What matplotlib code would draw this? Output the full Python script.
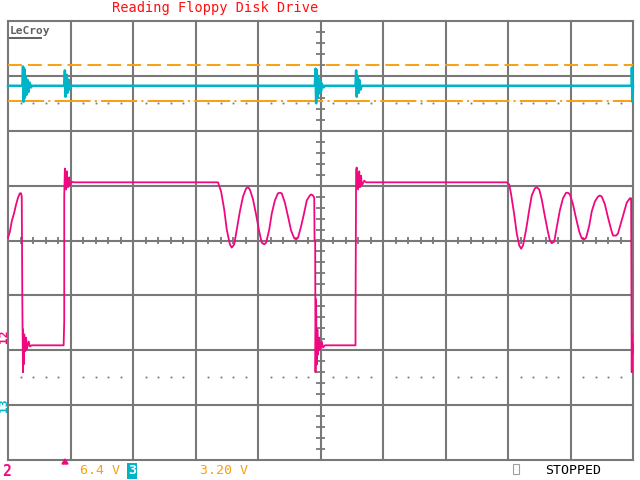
#!/usr/bin/env python3
"""
LeCroy scope capture - reading a floppy disk drive
Screen is 10 x 8 divisions; traces are stored in divisions (t, v).
"""

import matplotlib

matplotlib.use("Agg")
import matplotlib.pyplot as plt
import numpy as np

plt.rcParams["lines.scale_dashes"] = False
MONO = "DejaVu Sans Mono"

# ── Trace data (in divisions) ──────────────────────────────────────
# channel 2 (magenta): read data signal
ch2_t = [0.00, 0.03, 0.06, 0.10, 0.13, 0.16, 0.19, 0.21, 0.22,
         0.23, 0.24, 0.24, 0.25, 0.26, 0.27, 0.29, 0.30, 0.33, 0.35, 0.38,
         0.89, 0.90, 0.90, 0.91, 0.93, 0.94, 0.96, 0.98, 0.99, 1.02, 1.06,
         3.34, 3.36, 3.41, 3.46, 3.50, 3.55, 3.58, 3.62, 3.66, 3.71, 3.76,
         3.81, 3.84, 3.87, 3.92, 3.97, 4.02, 4.06, 4.10, 4.13, 4.18, 4.22,
         4.27, 4.32, 4.35, 4.38, 4.43, 4.48, 4.53, 4.58, 4.61, 4.64, 4.69,
         4.74, 4.78, 4.83, 4.85, 4.88, 4.90, 4.905, 4.915, 4.92,
         4.93, 4.94, 4.95, 4.96, 4.98, 4.99, 5.02, 5.04, 5.07,
         5.56, 5.56, 5.57, 5.58, 5.60, 5.62, 5.63, 5.65, 5.66, 5.70, 5.73,
         7.98, 8.02, 8.05, 8.10, 8.14, 8.18, 8.21, 8.24, 8.29, 8.34, 8.38,
         8.43, 8.46, 8.50, 8.54, 8.59, 8.64, 8.67, 8.70, 8.74, 8.78, 8.83,
         8.88, 8.93, 8.96, 8.99, 9.04, 9.09, 9.14, 9.18, 9.22, 9.25, 9.30,
         9.34, 9.39, 9.44, 9.47, 9.50, 9.55, 9.60, 9.65, 9.68, 9.73, 9.76,
         9.81, 9.86, 9.90, 9.95, 9.97, 9.975, 9.98, 9.983, 9.99, 10.0]
ch2_v = [0.05, 0.16, 0.35, 0.51, 0.66, 0.78, 0.86, 0.86, 0.80,
         -1.20, -2.40, -1.62, -2.26, -1.71, -2.02, -1.77, -1.99, -1.84, -1.93, -1.91,
         -1.91, -1.46, 0.80, 1.31, 0.93, 1.26, 0.97, 1.15, 1.00, 1.07, 1.06,
         1.06, 1.06, 0.89, 0.56, 0.20, -0.07, -0.13, -0.07, 0.20, 0.53, 0.80,
         0.95, 0.97, 0.93, 0.75, 0.47, 0.16, -0.04, -0.07, -0.04, 0.20, 0.49,
         0.73, 0.86, 0.87, 0.86, 0.69, 0.44, 0.18, 0.04, 0.02, 0.05, 0.26,
         0.51, 0.73, 0.82, 0.84, 0.82, 0.78, 0.00, 0.00, -2.40,
         -1.07, -2.26, -1.62, -2.08, -1.77, -1.99, -1.84, -1.95, -1.91,
         -1.91, -1.46, 1.29, 1.33, 0.93, 1.26, 0.97, 1.18, 1.00, 1.09, 1.06,
         1.06, 1.02, 0.84, 0.47, 0.13, -0.09, -0.15, -0.09, 0.20, 0.56, 0.82,
         0.95, 0.97, 0.93, 0.75, 0.44, 0.15, 0.00, -0.05, -0.02, 0.24, 0.55,
         0.77, 0.87, 0.87, 0.84, 0.66, 0.40, 0.16, 0.04, 0.02, 0.05, 0.27,
         0.53, 0.71, 0.80, 0.82, 0.80, 0.66, 0.42, 0.20, 0.09, 0.09, 0.13,
         0.33, 0.53, 0.69, 0.77, 0.77, -1.07, -2.40, -1.71, -2.08, -1.89]

# channel 3 (cyan): index / step pulses with ringing
ch3_t = [0.00, 0.23, 0.24, 0.25, 0.26, 0.27, 0.28, 0.30, 0.31, 0.33, 0.34, 0.37, 0.38,
         0.90, 0.91, 0.92, 0.94, 0.95, 0.97, 0.98, 1.01,
         4.91, 4.92, 4.93, 4.94, 4.95, 4.96, 4.98, 4.99, 5.01, 5.02, 5.05, 5.07,
         5.56, 5.57, 5.58, 5.59, 5.61, 5.62, 5.64, 5.66,
         9.98, 9.982, 9.99, 10.0]
ch3_v = [2.82, 2.82, 3.17, 2.53, 3.13, 2.60, 3.00, 2.66, 2.93, 2.71, 2.88, 2.79, 2.82,
         2.82, 3.10, 2.62, 3.02, 2.69, 2.93, 2.75, 2.82,
         2.82, 3.13, 2.50, 3.11, 2.60, 3.00, 2.68, 2.93, 2.73, 2.86, 2.79, 2.82,
         2.82, 3.10, 2.62, 3.00, 2.69, 2.93, 2.75, 2.82,
         2.82, 3.15, 2.53, 2.82]

# cursor / reference levels (divisions)
cursor_upper = 3.19
cursor_lower = 2.55
ref_dots_levels = [2.50, -2.48]

# ── Colours ────────────────────────────────────────────────────────
GRID = "#787878"
MAGENTA = "#f0087f"
CYAN = "#00b4c8"
ORANGE = "#f8a010"

# ── Figure ─────────────────────────────────────────────────────────
fig = plt.figure(figsize=(6.4, 4.8), dpi=100, facecolor="white")
ax = fig.add_axes([8 / 640, 20 / 480, 625 / 640, 439 / 480])
ax.set_xlim(0, 10)
ax.set_ylim(-4, 4)
ax.axis("off")

# grid
for x in range(11):
    ax.axvline(x, color=GRID, lw=1.5, clip_on=False, zorder=1)
for y in range(-4, 5):
    ax.axhline(y, color=GRID, lw=1.5, clip_on=False, zorder=1)

# centre ticks
minor_x = np.arange(0, 10.01, 0.2)
minor_y = np.arange(-4, 4.01, 0.2)
ax.vlines(minor_x, -0.07, 0.07, color=GRID, lw=1.3, zorder=1)
ax.hlines(minor_y, 4.935, 5.065, color=GRID, lw=1.3, zorder=1)

# reference dots
dot_x = [v for v in minor_x if abs(v - round(v)) > 0.05]
for lvl in ref_dots_levels:
    ax.plot(dot_x, [lvl] * len(dot_x), ls="none", marker="s", ms=1.3,
            color=GRID, mew=0, zorder=2)

# cursors
ax.axhline(cursor_upper, color=ORANGE, lw=1.4, ls=(0, (10, 4.3)), zorder=2)
ax.axhline(cursor_lower, color=ORANGE, lw=1.4, ls=(0, (26, 3, 1.5, 3)), zorder=2)

# traces
ax.plot(ch3_t, ch3_v, color=CYAN, lw=1.8, zorder=3, clip_on=False)
ax.plot(ch2_t, ch2_v, color=MAGENTA, lw=1.3, zorder=4, clip_on=False)

# ── Screen annotations ─────────────────────────────────────────────
fig.text(112 / 640, 1 - 8 / 480, "Reading Floppy Disk Drive", color="#ff1010",
         family=MONO, fontsize=9.8, ha="left", va="center")

fig.text(10 / 640, 1 - 31 / 480, "LeCroy", color="#606060", family=MONO,
         fontsize=8, fontweight="bold", ha="left", va="center")
fig.add_artist(plt.Line2D([10 / 640, 41 / 640], [1 - 38 / 480, 1 - 38 / 480],
                          color="#606060", lw=1.4))

# ground markers on left edge
fig.text(4 / 640, 1 - 336 / 480, "12", color=MAGENTA, family=MONO, fontsize=8,
         fontweight="bold", rotation=90, ha="center", va="center")
fig.text(4 / 640, 1 - 405 / 480, "13", color=CYAN, family=MONO, fontsize=8,
         fontweight="bold", rotation=90, ha="center", va="center")

# bottom status line
fig.text(2 / 640, 1 - 471 / 480, "2", color=MAGENTA, family=MONO, fontsize=10.5,
         fontweight="bold", ha="left", va="center")
fig.add_artist(plt.Polygon([[62 / 640, 1 - 464 / 480], [68 / 640, 1 - 464 / 480],
                            [65 / 640, 1 - 459 / 480]], closed=True,
                           color=MAGENTA, transform=fig.transFigure))
fig.text(80 / 640, 1 - 471 / 480, "6.4 V", color=ORANGE, family=MONO,
         fontsize=9.5, ha="left", va="center")
fig.text(132 / 640, 1 - 471 / 480, "3", color="white", family=MONO, fontsize=9.5,
         fontweight="bold", ha="center", va="center",
         bbox=dict(boxstyle="square,pad=0.08", fc=CYAN, ec="none"))
fig.text(200 / 640, 1 - 471 / 480, "3.20 V", color=ORANGE, family=MONO,
         fontsize=9.5, ha="left", va="center")
fig.add_artist(plt.Rectangle((513 / 640, 1 - 474 / 480), 6 / 640, 10 / 480,
                             fill=False, ec="#a0a0a0", lw=0.8,
                             transform=fig.transFigure))
fig.text(545 / 640, 1 - 471 / 480, "STOPPED", color="black", family=MONO,
         fontsize=9.5, ha="left", va="center")

fig.savefig("out.png", dpi=100, facecolor="white")
plt.close()
